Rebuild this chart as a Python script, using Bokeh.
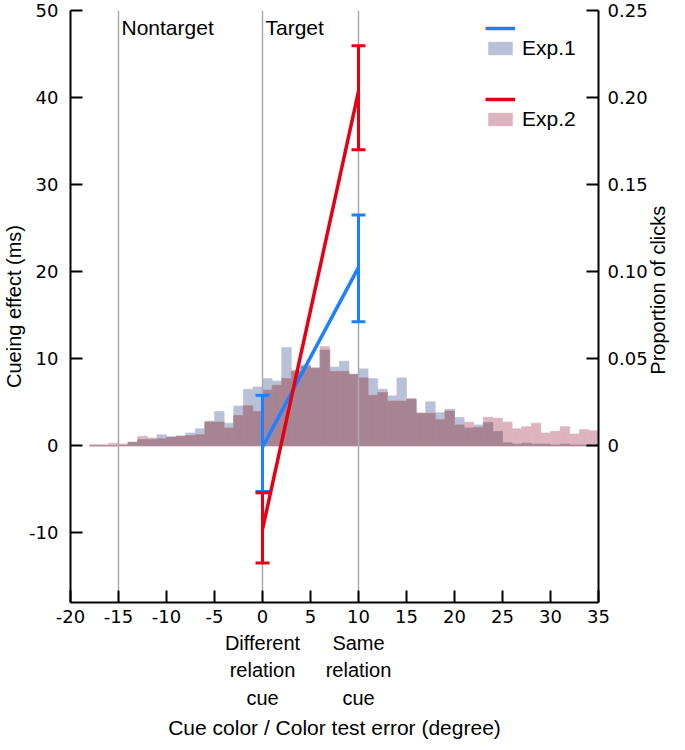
import math
import numpy as np
from bokeh.plotting import figure
from bokeh.models import (Range1d, LinearAxis, FixedTicker, Label, ColumnDataSource,
                          Legend, LegendItem)
from bokeh.embed import file_html
from bokeh.resources import INLINE

# ---------------- data ----------------
bin_left = list(range(-18, 35))  # 1-degree bins
exp1_prop = [0, 0, 0, 0.0003, 0.002, 0.0036, 0.0036, 0.0064, 0.005, 0.0055,
             0.0074, 0.0098, 0.0142, 0.0197, 0.013, 0.0229, 0.0325, 0.0338,
             0.0386, 0.0372, 0.0565, 0.0435, 0.0465, 0.0446, 0.055, 0.0452,
             0.0486, 0.041, 0.0442, 0.0386, 0.0325, 0.0287, 0.039, 0.0268,
             0.0187, 0.0253, 0.019, 0.021, 0.0163, 0.0102, 0.012, 0.0134,
             0.0083, 0.0017, 0.001, 0.0015, 0.001, 0.001, 0.0005, 0.001,
             0.0005, 0.0005, 0.0003]
exp2_prop = [0.0008, 0.0008, 0.0015, 0.001, 0.002, 0.0055, 0.0045, 0.004,
             0.005, 0.0055, 0.0059, 0.0064, 0.0136, 0.0136, 0.0102, 0.0174,
             0.023, 0.0197, 0.032, 0.0348, 0.0386, 0.0427, 0.0455, 0.0446,
             0.057, 0.0427, 0.0427, 0.041, 0.039, 0.029, 0.0306, 0.0257,
             0.0257, 0.027, 0.0187, 0.0187, 0.015, 0.020, 0.012, 0.0136,
             0.0106, 0.0164, 0.0159, 0.0136, 0.0098, 0.011, 0.013, 0.0074,
             0.0083, 0.011, 0.0068, 0.0093, 0.0087]

cue_x = [0, 10]
exp1_effect = [-0.15, 20.5]
exp1_low = [-5.25, 14.25]
exp1_high = [5.8, 26.5]
exp2_effect = [-9.6, 40.7]
exp2_low = [-13.45, 34.0]
exp2_high = [-5.4, 45.95]

x_lim = (-20, 35)
y_lim = (-18, 50)
prop_max = 0.25
x_ticks = [-20, -15, -10, -5, 0, 5, 10, 15, 20, 25, 30, 35]
y_ticks = [-10, 0, 10, 20, 30, 40, 50]
prop_ticks = [0, 0.05, 0.10, 0.15, 0.20, 0.25]
prop_labels = ["0", "0.05", "0.10", "0.15", "0.20", "0.25"]
ref_lines = [-15, 0, 10]
ref_names = ["Nontarget", "Target"]
cue_labels = ["Different\nrelation\ncue", "Same\nrelation\ncue"]
right_title = "Proportion of clicks"

# ---------------- style ----------------
BLUE_BAR = "#b9c1d7"
PINK_BAR = "#dcb4bf"
OVERLAP = "#a78494"
BLUE = "#1f80ff"
RED = "#e60014"
TICK_FONT = "DejaVu Sans"
TEXT_FONT = "Liberation Sans"
FW, FH = 528, 592
RIGHT_TITLE_PAD = 41  # non-breaking spaces lifting the rotated title off the frame bottom

p = figure(frame_width=FW, frame_height=FH, x_range=Range1d(*x_lim), y_range=Range1d(*y_lim),
           output_backend="svg", toolbar_location=None,
           min_border_left=62, min_border_right=74, min_border_top=10, min_border_bottom=100)
p.extra_y_ranges = {"prop": Range1d(y_lim[0] / y_lim[1] * prop_max, prop_max)}
p.outline_line_color = None
p.xgrid.visible = False
p.ygrid.visible = False

# histogram
left = np.array(bin_left, dtype=float)
right = left + 1
e1 = np.array(exp1_prop)
e2 = np.array(exp2_prop)
ov = np.minimum(e1, e2)
bars1 = p.quad(left=left, right=right, bottom=0, top=e1, y_range_name="prop",
               fill_color=BLUE_BAR, line_color=BLUE_BAR, line_width=0.6)
bars2 = p.quad(left=left, right=right, bottom=0, top=e2, y_range_name="prop",
               fill_color=PINK_BAR, line_color=PINK_BAR, line_width=0.6)
p.quad(left=left, right=right, bottom=0, top=ov, y_range_name="prop",
       fill_color=OVERLAP, line_color=OVERLAP, line_width=0.6)

# reference lines
p.segment(x0=ref_lines, y0=[y_lim[0]] * len(ref_lines), x1=ref_lines,
          y1=[y_lim[1]] * len(ref_lines), line_color="#aaaaaa", line_width=1.5)
for loc, name in zip(ref_lines[:2], ref_names):
    p.add_layout(Label(x=loc, y=y_lim[1], x_offset=3, y_offset=-5, text=name,
                       text_baseline="top", text_font=TEXT_FONT, text_font_size="21px",
                       text_color="black"))

# cueing effects
src1 = ColumnDataSource(dict(x=cue_x, y=exp1_effect, lo=exp1_low, hi=exp1_high))
src2 = ColumnDataSource(dict(x=cue_x, y=exp2_effect, lo=exp2_low, hi=exp2_high))
renderers = {}
for key, src, col in (("e1", src1, BLUE), ("e2", src2, RED)):
    renderers[key] = p.line("x", "y", source=src, line_color=col, line_width=3.5)
    p.segment(x0="x", y0="lo", x1="x", y1="hi", source=src, line_color=col, line_width=3)
    for end in ("lo", "hi"):
        p.scatter("x", end, source=src, marker="dash", size=14, line_color=col, line_width=3)
line1, line2 = renderers["e1"], renderers["e2"]

# axes
def style_axis(ax):
    ax.axis_line_width = 2
    ax.axis_line_color = "black"
    ax.major_tick_line_width = 2
    ax.major_tick_in = 12
    ax.major_tick_out = 0
    ax.minor_tick_line_color = None
    ax.major_label_text_font = TICK_FONT
    ax.major_label_text_font_size = "18px"
    ax.major_label_text_color = "black"
    ax.axis_label_text_font = TEXT_FONT
    ax.axis_label_text_font_size = "20px"
    ax.axis_label_text_font_style = "normal"
    ax.axis_label_text_color = "black"

xa = p.xaxis[0]
xa.ticker = FixedTicker(ticks=x_ticks)
xa.major_label_overrides = {t: str(t) for t in x_ticks}
style_axis(xa)
xa.major_label_standoff = 7

ya = p.yaxis[0]
ya.ticker = FixedTicker(ticks=y_ticks)
ya.major_label_overrides = {t: str(t) for t in y_ticks}
style_axis(ya)
ya.major_label_standoff = 12
ya.axis_label = "Cueing effect (ms)"
ya.axis_label_standoff = 1

ra = LinearAxis(y_range_name="prop", ticker=FixedTicker(ticks=prop_ticks),
                major_label_overrides={t: s for t, s in zip(prop_ticks, prop_labels)})
style_axis(ra)
ra.major_label_standoff = 9
ra.axis_label_standoff = 7
ra.axis_label_orientation = math.pi / 2
try:
    ra.axis_label_align = "start"
    ra.axis_label = "\u00a0" * RIGHT_TITLE_PAD + right_title
except Exception:
    ra.axis_label = right_title
p.add_layout(ra, "right")

ca = LinearAxis(ticker=FixedTicker(ticks=cue_x),
                major_label_overrides={t: s for t, s in zip(cue_x, cue_labels)},
                axis_label="Cue color / Color test error (degree)")
style_axis(ca)
ca.axis_line_color = None
ca.major_tick_line_color = None
ca.major_tick_in = 0
ca.major_label_text_font = TEXT_FONT
ca.major_label_text_font_size = "20px"
ca.major_label_text_line_height = 1.25
ca.major_label_standoff = 6
ca.axis_label_text_font_size = "21px"
ca.axis_label_standoff = 4
p.add_layout(ca, "below")

# legends
leg_style = dict(border_line_color=None, background_fill_alpha=0, padding=0, margin=0,
                 spacing=0, glyph_height=16, glyph_width=30, label_height=16,
                 label_standoff=7, label_text_font=TEXT_FONT, label_text_font_size="21px",
                 label_text_color="black", orientation="vertical")
leg1 = Legend(items=[LegendItem(label="", renderers=[line1]),
                     LegendItem(label="Exp.1", renderers=[bars1])],
              location=(415, 542), **leg_style)
leg2 = Legend(items=[LegendItem(label="", renderers=[line2]),
                     LegendItem(label="Exp.2", renderers=[bars2])],
              location=(415, 471), **leg_style)
p.add_layout(leg1)
p.add_layout(leg2)

open("out.html", "w").write(file_html(p, INLINE))
